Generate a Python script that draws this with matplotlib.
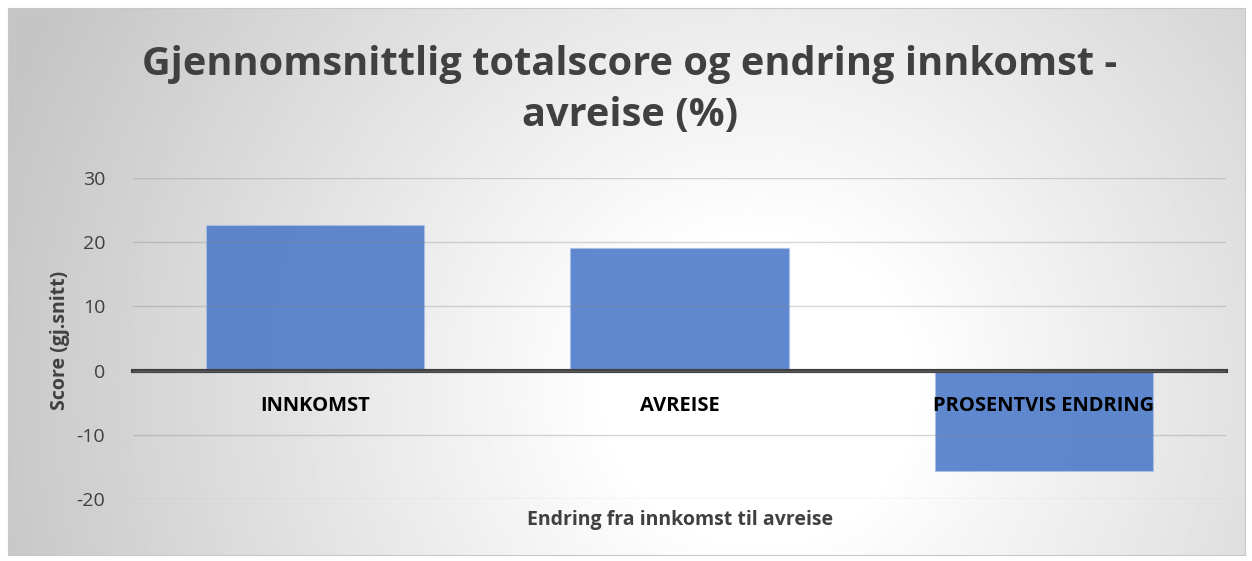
import numpy as np
import matplotlib
matplotlib.use("Agg")
import matplotlib.pyplot as plt

categories = ["INNKOMST", "AVREISE", "PROSENTVIS ENDRING"]
scores = [22.7, 19.1, -15.7]
y_ticks = [-20, -10, 0, 10, 20, 30]

plt.rcParams['font.family'] = ['Open Sans', 'DejaVu Sans']

W, H = 1252, 561
fig = plt.figure(figsize=(W / 100, H / 100), dpi=100)
fig.patch.set_facecolor('white')

# chart area with radial gradient background
x0, y0, x1, y1 = 8, 8, 1245, 555
bg = fig.add_axes([x0 / W, 1 - y1 / H, (x1 - x0) / W, (y1 - y0) / H])
gx, gy = np.meshgrid(np.linspace(x0, x1, 500), np.linspace(y0, y1, 220))
d = np.sqrt((gx - 760) ** 2 + (gy - 390) ** 2)
r = np.clip((d - 150) / 660, 0, 1)
shade = 1.0 - 0.23 * r
bg.imshow(shade, cmap='gray', vmin=0, vmax=1, aspect='auto', extent=[0, 1, 0, 1], origin='upper')
bg.set_xticks([])
bg.set_yticks([])
for s in bg.spines.values():
    s.set_color('#c8c8c8')
    s.set_linewidth(0.8)

# plot area
px0, px1 = 133, 1226
ytop, ybot = 178, 499
ax = fig.add_axes([px0 / W, 1 - ybot / H, (px1 - px0) / W, (ybot - ytop) / H])
ax.patch.set_alpha(0)
ax.set_axisbelow(False)

x = np.arange(len(categories))
ax.bar(x, scores, width=0.6, color='#4a78c8', alpha=0.88, edgecolor='#a9bfe6', linewidth=0.8, zorder=2)

ax.set_xlim(-0.5, len(categories) - 0.5)
ax.set_ylim(-20, 30)
ax.set_yticks(y_ticks)
ax.set_yticklabels([str(t) for t in y_ticks], fontsize=14, color='#404040')
ax.tick_params(axis='y', length=0, pad=20)
ax.grid(axis='y', color='#8a8a8a', alpha=0.35, linewidth=1.0)

for s in ['top', 'right', 'left']:
    ax.spines[s].set_visible(False)
ax.spines['bottom'].set_position(('data', 0))
ax.spines['bottom'].set_color('#404040')
ax.spines['bottom'].set_linewidth(3)

ax.set_xticks(x)
ax.set_xticklabels(categories, fontsize=14.5, fontweight='bold', color='black')
ax.tick_params(axis='x', length=0, pad=18)

fig.text(60 / W, 1 - 340 / H, "Score (gj.snitt)", rotation=90,
         ha='center', va='center', fontsize=14, fontweight='bold', color='#404040')

fig.text(680 / W, 1 - 520 / H, "Endring fra innkomst til avreise",
         ha='center', va='center', fontsize=14, fontweight='bold', color='#404040')

fig.text(630 / W, 1 - 90 / H, "Gjennomsnittlig totalscore og endring innkomst -\navreise (%)",
         ha='center', va='center', fontsize=28.6, fontweight='bold', color='#404040', linespacing=1.4)

fig.savefig("out.png", dpi=100)
